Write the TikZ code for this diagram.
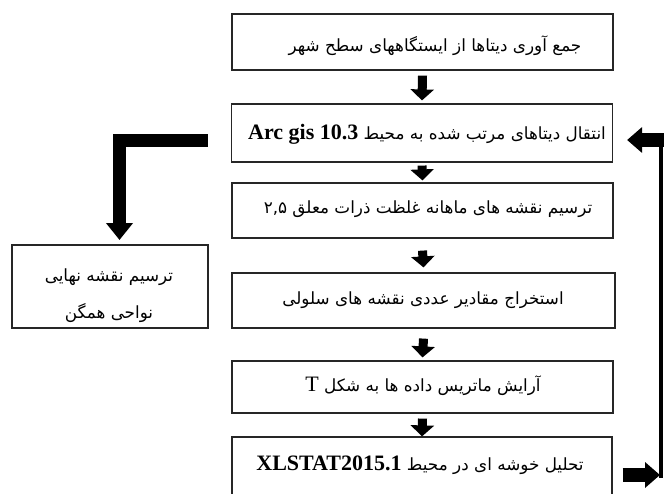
\documentclass[tikz,border=0pt]{standalone}
\usepackage{fontspec}
\usetikzlibrary{arrows.meta}
\TeXXeTstate=1
\newfontfamily\arabicfont[Script=Arabic]{DejaVu Sans}
\newfontfamily\latinfont{Liberation Serif}
\tikzset{
  box/.style={draw=black!85, line width=1.2pt, minimum width=381pt, minimum height=56pt, inner sep=0pt},
  txt/.style={inner sep=0pt, font=\arabicfont\fontsize{16.8}{37}\selectfont, align=center},
  fat/.style={line width=9pt, -{Triangle[width=23pt,length=11pt]}},
  bigL/.style={line width=13pt, miter limit=10, line join=miter, -{Triangle[width=26pt,length=17pt]}},
  fb/.style={line width=14pt, -{Triangle[width=25pt,length=15pt]}},
  fbline/.style={line width=4.5pt}
}
\begin{document}
\begin{tikzpicture}[x=1pt,y=-1pt]
\useasboundingbox (0,0) rectangle (664,493);
\clip (0,0) rectangle (664,493);
% boxes
\node[box] (b1) at (422.5,42) {};
\node[box, minimum height=58pt] (b2) at (422,133) {};
\node[box, minimum height=55pt] (b3) at (422.5,210.5) {};
\node[box, minimum width=383pt, minimum height=55pt] (b4) at (423.5,300.5) {};
\node[box, minimum height=52pt] (b5) at (422.5,387) {};
\node[box, minimum width=380pt, minimum height=70pt] (b6) at (422,472) {};
\node[box, minimum width=196pt, minimum height=83pt] (lb) at (110,286.5) {};
% texts
\node[txt] (t1) at (435,46) {\beginR جمع آوری دیتاها از ایستگاههای سطح شهر\endR};
\node[txt] (t2) at (427,134) {\beginR انتقال دیتاهای مرتب شده به محیط \beginL{\latinfont\bfseries\fontsize{22}{24}\selectfont Arc gis 10.3}\endL\endR};
\node[txt] (t3) at (428,209) {\beginR ترسیم نقشه های ماهانه غلظت ذرات معلق \beginL ۲,۵\endL\endR};
\node[txt] (t4) at (423,300) {\beginR استخراج مقادیر عددی نقشه های سلولی\endR};
\node[txt] (t5) at (423,386) {\beginR آرایش ماتریس داده ها به شکل \beginL{\latinfont\fontsize{22}{24}\selectfont T}\endL\endR};
\node[txt] (t6) at (420,465) {\beginR تحلیل خوشه ای در محیط \beginL{\latinfont\bfseries\fontsize{22}{24}\selectfont XLSTAT2015.1}\endL\endR};
\node[txt] (tl) at (109,295.5) {\beginR ترسیم نقشه نهایی\endR\\\beginR نواحی همگن\endR};
% vertical arrows
\draw[fat] ([yshift=-5pt]b1.south) -- ([yshift=3pt]b2.north);
\draw[fat] ([yshift=-3pt]b2.south) -- ([yshift=2pt]b3.north);
\draw[fat] ([yshift=-12pt]b3.south) -- ([yshift=5pt]b4.north);
\draw[fat] ([yshift=-10pt]b4.south) -- ([yshift=3pt]b5.north);
\draw[fat] ([yshift=-5pt]b5.south) -- ([yshift=0pt]b6.north);
% left L arrow
\coordinate (lstart) at ([xshift=-23pt,yshift=-7pt]b2.west);
\coordinate (lcorner) at (119.5,140);
\draw[bigL] (lstart) -- (lcorner) -- (119.5,240);
% feedback
\coordinate (rt) at (661,140);
\coordinate (rb) at (661,475);
\draw[fbline] (661,133) -- (661,478);
\draw[fb] (665,140) -- ([xshift=14pt]b2.east |- rt);
\draw[fb] ([xshift=10pt]b6.east |- rb) -- ([xshift=-1pt]rb);
\end{tikzpicture}
\end{document}
